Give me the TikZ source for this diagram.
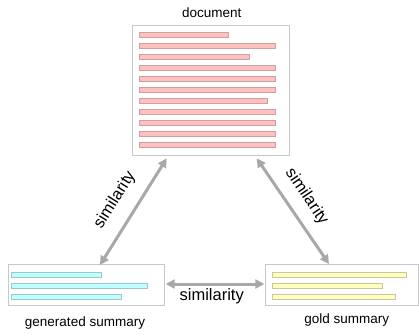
\documentclass[tikz,border=0pt]{standalone}
\usepackage{fontspec}
\setmainfont{Liberation Sans}
\usetikzlibrary{arrows.meta}
\definecolor{boxline}{HTML}{C8C8C8}
\definecolor{pinkfill}{HTML}{FFC0C0}
\definecolor{pinkline}{HTML}{D0A0A0}
\definecolor{cyanfill}{HTML}{C0FFFF}
\definecolor{cyanline}{HTML}{9CC8C8}
\definecolor{yelfill}{HTML}{FFFFC0}
\definecolor{yelline}{HTML}{C8C8A0}
\definecolor{arrgray}{HTML}{A8A8A8}
\begin{document}
\begin{tikzpicture}[x=1pt,y=-1pt,
  panel/.style={draw=boxline,line width=1pt,fill=white,inner sep=0pt,rectangle},
  caption/.style={font=\fontsize{13.5}{16}\selectfont,inner sep=0pt},
  simlabel/.style={font=\fontsize{16.5}{19}\selectfont,inner sep=0pt},
  arr/.style={draw=arrgray,line width=3pt,{Triangle[length=9pt,width=9pt]}-{Triangle[length=9pt,width=9pt]}},
  pinkbar/.style={fill=pinkfill,draw=pinkline,line width=0.7pt},
  cyanbar/.style={fill=cyanfill,draw=cyanline,line width=0.7pt},
  yelbar/.style={fill=yelfill,draw=yelline,line width=0.7pt}]
\useasboundingbox (0,0) rectangle (419,335);
% panels
\node[panel,minimum width=157pt,minimum height=130pt] (doc) at (210.5,90) {};
\node[panel,minimum width=156pt,minimum height=40.7pt] (gen) at (86.3,285.3) {};
\node[panel,minimum width=153pt,minimum height=40.7pt] (gold) at (341.5,285.3) {};
% captions
\node[caption] (doct) at (211.7,13) {document};
\node[caption] (gent) at (85,322.7) {generated summary};
\node[caption] (goldt) at (346.7,320) {gold summary};
% document bars
\foreach \r [count=\i from 0] in {228.7,275.7,249.7,275.7,275.7,275.7,267,275.7,275.7,275.7,275.7}{
  \draw[pinkbar] (139,{34.7+11.03*\i-2.5}) rectangle (\r,{34.7+11.03*\i+2.5});
}
% generated bars
\foreach \r/\y in {101.7/274.5,147.7/285.7,121.7/296.7}{
  \draw[cyanbar] (11.7,\y-2.5) rectangle (\r,\y+2.5);
}
% gold bars
\foreach \r/\y in {406.7/274.4,382.7/285.7,395.7/296.7}{
  \draw[yelbar] (272.3,\y-2.5) rectangle (\r,\y+2.5);
}
% arrow ends
\coordinate (l1) at (166.7,158.3);
\coordinate (l2) at (100,265);
\coordinate (r1) at (256.7,158.3);
\coordinate (r2) at (329,264);
\coordinate (h1) at (165.7,284);
\coordinate (h2) at (264.3,284);
\draw[arr] (l1) -- (l2);
\draw[arr] (r1) -- (r2);
\draw[arr] (h1) -- (h2);
% labels
\node[simlabel,rotate=58] (lsim) at (115,200) {similarity};
\node[simlabel,rotate=-56] (rsim) at (306.7,196.7) {similarity};
\node[simlabel] (hsim) at (211.7,296.5) {similarity};
\end{tikzpicture}
\end{document}
